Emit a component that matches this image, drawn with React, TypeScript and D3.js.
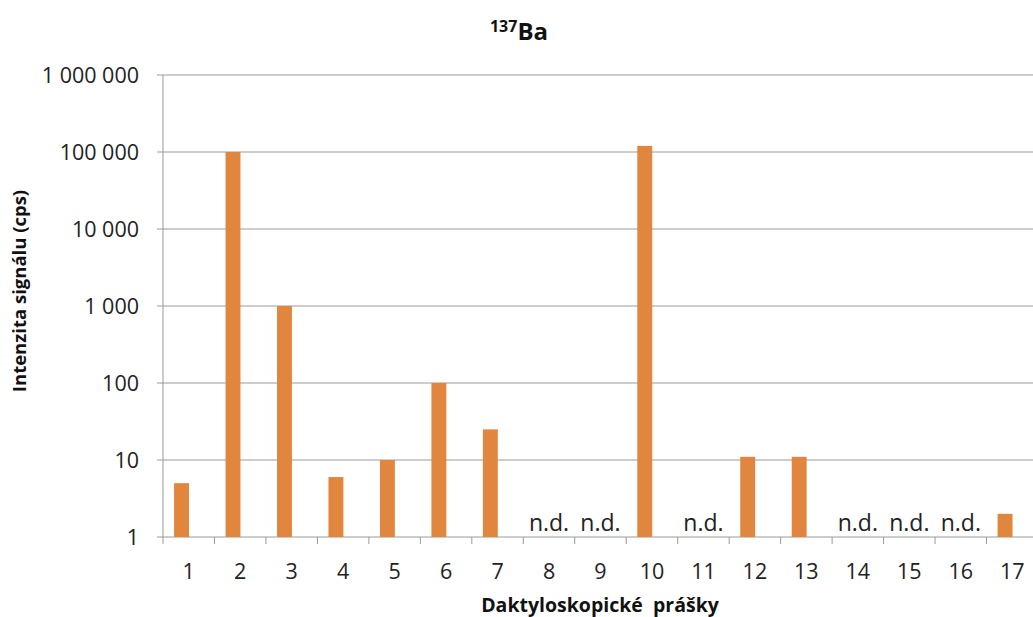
import React from "react";
import * as d3 from "d3";

const categories = ["1","2","3","4","5","6","7","8","9","10","11","12","13","14","15","16","17"];
// null = n.d. (not detected)
const values: (number | null)[] = [5, 100000, 1000, 6, 10, 100, 25, null, null, 120000, null, 11, 11, null, null, null, 2];
const yTicks = [1, 10, 100, 1000, 10000, 100000, 1000000];
const yTickLabels = ["1", "10", "100", "1 000", "10 000", "100 000", "1 000 000"];
const ndLabel = "n.d.";
const titleSup = "137";
const titleMain = "Ba";
const yTitle = "Intenzita signálu (cps)";
const xTitle = "Daktyloskopické  prášky";

const W = 1033, H = 617;
const left = 163, right = 1038, top = 75, bottom = 537;
const FONT = "'Open Sans', 'Noto Sans', sans-serif";

export default function App() {
  const x = d3.scaleBand<string>().domain(categories).range([left, right]).paddingInner(0).paddingOuter(0);
  const y = d3.scaleLog().domain([1, 1000000]).range([bottom, top]);
  const bw = x.bandwidth();
  const barOffset = bw * 0.215;
  const barW = bw * 0.29;
  const grid = "#9a9a9a";
  return (
    <svg width={W} height={H} style={{ position: "absolute", left: 0, top: 0, background: "#fff" }}>
      {yTicks.map((t, i) => (
        <g key={t}>
          {i > 0 && <line x1={left} x2={right} y1={y(t)} y2={y(t)} stroke={grid} strokeWidth={1} />}
          <line x1={left - 6} x2={left} y1={y(t)} y2={y(t)} stroke={grid} strokeWidth={1} />
          <text x={139} y={y(t)} dy="0.36em" textAnchor="end" fontFamily={FONT} fontSize={21.5} fill="#222">
            {yTickLabels[i]}
          </text>
        </g>
      ))}
      <line x1={left} x2={left} y1={top} y2={bottom} stroke={grid} strokeWidth={1} />
      <line x1={left} x2={right} y1={bottom} y2={bottom} stroke={grid} strokeWidth={1} />
      {categories.map((c, i) => (
        <g key={c}>
          <line x1={(x(c) as number)} x2={(x(c) as number)} y1={bottom} y2={bottom + 7} stroke={grid} strokeWidth={1} />
          <text x={(x(c) as number) + bw / 2} y={579} textAnchor="middle" fontFamily={FONT} fontSize={21.5} fill="#222">
            {c}
          </text>
          {values[i] === null ? (
            <text x={(x(c) as number) + bw / 2} y={531} textAnchor="middle" fontFamily={FONT} fontSize={23} fill="#222">
              {ndLabel}
            </text>
          ) : (
            <rect x={(x(c) as number) + barOffset} width={barW} y={y(values[i] as number)} height={bottom - y(values[i] as number)} fill="#E0863F" />
          )}
        </g>
      ))}
      <text x={519} y={40} textAnchor="middle" fontFamily={FONT} fontWeight="bold" fill="#111">
        <tspan fontSize={16} dy={-8}>{titleSup}</tspan>
        <tspan fontSize={24} dy={8}>{titleMain}</tspan>
      </text>
      <text transform={`translate(26,291) rotate(-90)`} textAnchor="middle" fontFamily={FONT} fontWeight="bold" fontSize={18.5} fill="#111">
        {yTitle}
      </text>
      <text x={600} y={612} textAnchor="middle" fontFamily={FONT} fontWeight="bold" fontSize={19.5} fill="#111" style={{ whiteSpace: "pre" }}>
        {xTitle}
      </text>
    </svg>
  );
}
